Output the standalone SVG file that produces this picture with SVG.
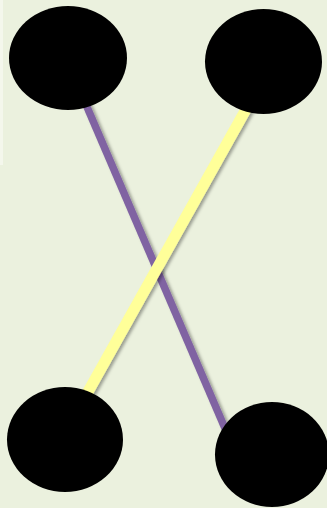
<svg xmlns="http://www.w3.org/2000/svg" width="327" height="508" viewBox="0 0 327 508">
  <defs>
    <filter id="sh" x="-20%" y="-20%" width="140%" height="140%">
      <feDropShadow dx="2.5" dy="1.5" stdDeviation="1.5" flood-color="#000" flood-opacity="0.35"/>
    </filter>
  </defs>
  <style>
    .node { fill: #000; }
    .edge { fill: none; stroke-linecap: butt; filter: url(#sh); }
    .purple { stroke: #8064a2; stroke-width: 7.5; }
    .yellow { stroke: #ffff99; stroke-width: 11; }
  </style>
  <rect x="0" y="0" width="327" height="508" fill="#ebf1de"/>
  <rect x="0" y="0" width="3" height="165" fill="#f4f7ec"/>
  <g id="connectors">
    <line class="edge purple" x1="66" y1="58" x2="236" y2="454"/>
    <line class="edge yellow" x1="273" y1="61" x2="61" y2="440"/>
  </g>
  <g id="node-tl"><ellipse class="node" cx="68" cy="58" rx="59" ry="52"/></g>
  <g id="node-tr"><ellipse class="node" cx="263.5" cy="61.5" rx="58.5" ry="52.5"/></g>
  <g id="node-bl"><ellipse class="node" cx="65" cy="439.5" rx="58" ry="52.5"/></g>
  <g id="node-br"><ellipse class="node" cx="272" cy="454.5" rx="57" ry="52.5"/></g>
</svg>
